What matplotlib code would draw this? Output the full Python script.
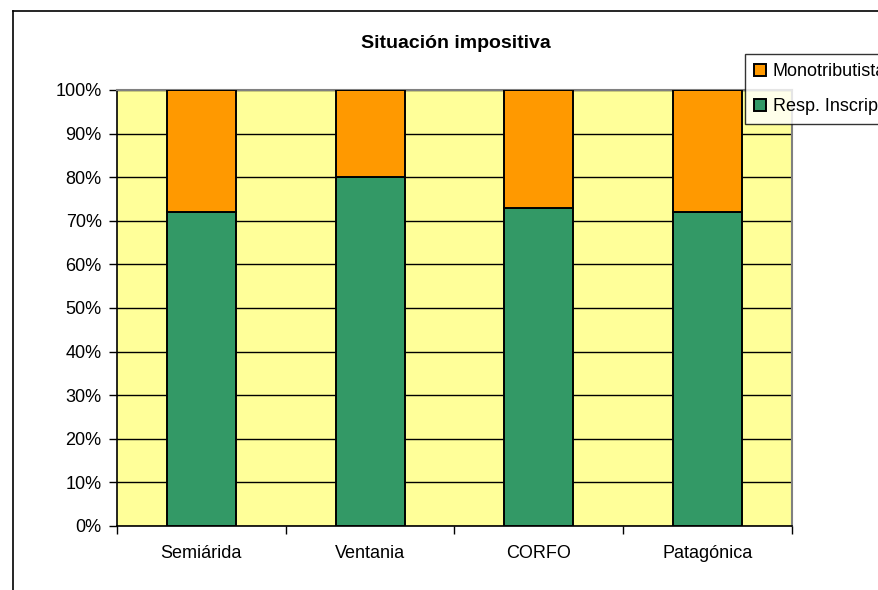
import numpy as np
import matplotlib.pyplot as plt
from matplotlib.lines import Line2D
from matplotlib.ticker import PercentFormatter

plt.rcParams['font.family'] = ['Liberation Sans', 'DejaVu Sans']

regiones = ['Semiárida', 'Ventania', 'CORFO', 'Patagónica']
resp_inscripto = [72, 80, 73, 72]
monotributista = [28, 20, 27, 28]

fig = plt.figure(figsize=(8.79, 5.90), dpi=100)
ax = fig.add_axes([117 / 879, 64 / 590, 675 / 879, 436 / 590])
ax.set_facecolor('#FFFF99')

x = np.arange(len(regiones))
b1 = ax.bar(x, resp_inscripto, width=0.41, color='#339966', edgecolor='black',
            linewidth=1.4, label='Resp. Inscripto', zorder=3)
b2 = ax.bar(x, monotributista, width=0.41, bottom=resp_inscripto, color='#FF9900',
            edgecolor='black', linewidth=1.4, label='Monotributista', zorder=3)

ax.set_xlim(-0.5, len(regiones) - 0.5)
ax.set_ylim(0, 100)
ax.set_yticks(np.arange(0, 101, 10))
ax.yaxis.set_major_formatter(PercentFormatter(decimals=0))
ax.yaxis.grid(True, color='black', linewidth=1, zorder=1)
ax.set_axisbelow(True)

ax.set_xticks(x)
ax.set_xticklabels(regiones)
ax.set_xticks(np.arange(-0.5, len(regiones)), minor=True)
ax.tick_params(axis='x', which='major', length=0, labelsize=13, pad=14)
ax.tick_params(axis='x', which='minor', length=6, width=1, direction='out')
ax.tick_params(axis='y', length=6, width=1, direction='out', labelsize=13, pad=5)

for s in ['top', 'right']:
    ax.spines[s].set_color('#808080')
    ax.spines[s].set_linewidth(1.5)
ax.spines['left'].set_linewidth(1.2)
ax.spines['bottom'].set_linewidth(1.2)

fig.text(456 / 879, 1 - 43 / 590, 'Situación impositiva', ha='center', va='center',
         fontsize=14, fontweight='bold')

leg = fig.legend([b2, b1], ['Monotributista', 'Resp. Inscripto'],
                 loc='upper left', bbox_to_anchor=(745 / 879, 1 - 54 / 590),
                 fontsize=13, frameon=True, fancybox=False, edgecolor='black',
                 handlelength=0.65, handleheight=0.65, handletextpad=0.4,
                 borderpad=0.5, labelspacing=1.0, borderaxespad=0)
leg.get_frame().set_linewidth(1)

# outer chart border
fig.add_artist(Line2D([13 / 879, 13 / 879], [0, 1 - 11 / 590], color='black', lw=1.2))
fig.add_artist(Line2D([13 / 879, 1], [1 - 11 / 590, 1 - 11 / 590], color='black', lw=1.2))

fig.savefig('out.png', dpi=100)
